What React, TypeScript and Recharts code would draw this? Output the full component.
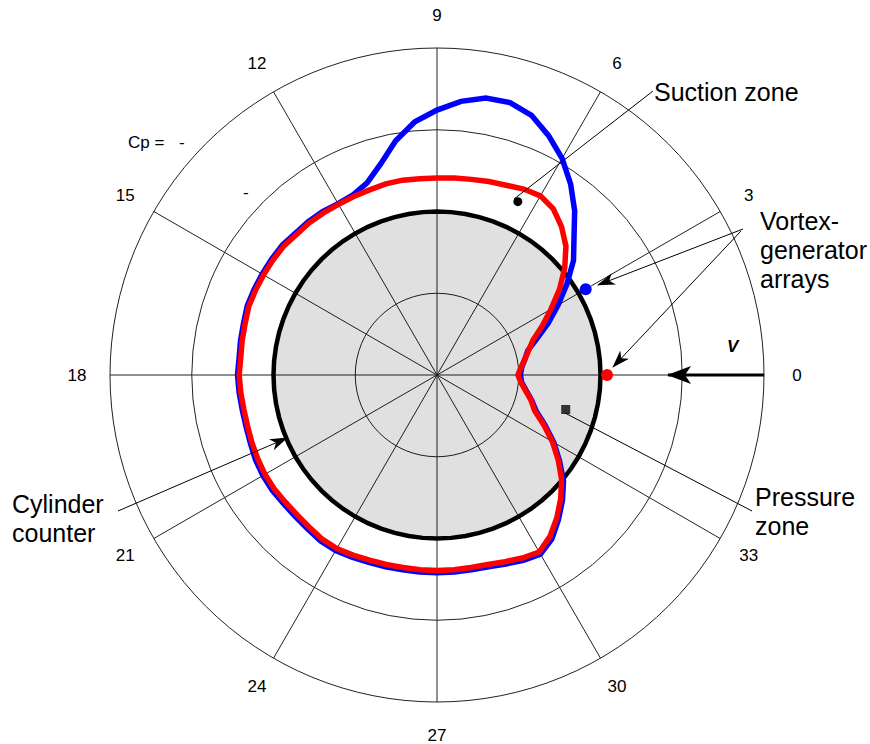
import React from 'react';
import { RadarChart, Radar, PolarGrid, PolarAngleAxis, PolarRadiusAxis } from 'recharts';

const FONT = '"Liberation Sans", Arial, sans-serif';

// angle of each sample, degrees, counter-clockwise from the free stream side
const angles = [
  0, 5, 10, 15, 20, 25, 30, 35, 40, 45, 50, 55,
  60, 65, 70, 75, 80, 85, 90, 95, 100, 105, 110, 115,
  120, 125, 130, 135, 140, 145, 150, 155, 160, 165, 170, 175,
  180, 185, 190, 195, 200, 205, 210, 215, 220, 225, 230, 235,
  240, 245, 250, 255, 260, 265, 270, 275, 280, 285, 290, 295,
  300, 305, 310, 315, 320, 325, 330, 335, 340, 345, 350, 355,
];

// blue: vortex generators at 30 deg (radius in ring units, cylinder wall = 2)
const vg30 = [
  1.02, 1.04, 1.09, 1.15, 1.3, 1.5, 1.71, 1.94, 2.18, 2.37, 2.62, 2.85,
  3.06, 3.23, 3.38, 3.45, 3.44, 3.36, 3.24, 3.11, 2.91, 2.67, 2.5, 2.43,
  2.42, 2.44, 2.45, 2.45, 2.47, 2.47, 2.47, 2.47, 2.47, 2.45, 2.44, 2.43,
  2.44, 2.43, 2.42, 2.42, 2.43, 2.45, 2.46, 2.46, 2.45, 2.45, 2.46, 2.48,
  2.48, 2.46, 2.44, 2.43, 2.42, 2.42, 2.42, 2.42, 2.42, 2.43, 2.46, 2.5,
  2.53, 2.45, 2.31, 2.17, 2.02, 1.83, 1.65, 1.46, 1.29, 1.2, 1.11, 1.04,
];

// red: vortex generators at 0 deg
const vg0 = [
  0.99, 1.03, 1.09, 1.16, 1.25, 1.42, 1.61, 1.83, 2.04, 2.23, 2.37, 2.48,
  2.53, 2.51, 2.47, 2.45, 2.43, 2.42, 2.41, 2.41, 2.42, 2.42, 2.41, 2.41,
  2.41, 2.42, 2.43, 2.43, 2.45, 2.45, 2.45, 2.45, 2.45, 2.43, 2.42, 2.41,
  2.42, 2.41, 2.4, 2.4, 2.41, 2.42, 2.43, 2.43, 2.42, 2.42, 2.43, 2.45,
  2.45, 2.43, 2.41, 2.4, 2.39, 2.39, 2.39, 2.39, 2.39, 2.4, 2.43, 2.47,
  2.5, 2.41, 2.28, 2.14, 1.99, 1.81, 1.63, 1.44, 1.27, 1.19, 1.1, 1.03,
];

const cylinderWall = 2;
const ringTicks = [0, 1, 2, 3, 4];
const spokeAngles = [0, 30, 60, 90, 120, 150, 180, 210, 240, 270, 300, 330];

const markerKeys = ['dotVg30', 'dotVg0', 'dotSuction', 'dotPressure'];
const markerAngles = [30, 0, 65, 345];
const markerValues = [2.1, 2.08, 2.34, 1.63];

const rows = angles.map((angle, i) => {
  const row: Record<string, number | undefined> = {
    angle,
    cylinder: cylinderWall,
    vg30: vg30[i],
    vg0: vg0[i],
  };
  markerKeys.forEach((k, j) => {
    row[k] = markerAngles[j] === angle ? markerValues[j] : undefined;
  });
  return row;
});

// recharts walks categories clockwise, so feed them 0, 355, 350 ... 5
const data = [rows[0], ...rows.slice(1).reverse()];

const AngleTick = (props: any) => {
  const { x, y, payload } = props;
  if (payload.value % 30 !== 0) return <g />;
  return (
    <text x={x} y={y} textAnchor="middle" dominantBaseline="central" fontSize={17} fill="#000" fontFamily={FONT}>
      {payload.value / 10}
    </text>
  );
};

const makeDot = (color: string, square: boolean, size: number) => (props: any) => {
  const { cx, cy, value, index } = props;
  if (value == null || Number.isNaN(cx)) return <g key={index} />;
  if (square) {
    return <rect key={index} x={cx - size} y={cy - size} width={size * 2} height={size * 2} fill={color} />;
  }
  return <circle key={index} cx={cx} cy={cy} r={size} fill={color} />;
};

const Annotations = () => (
  <svg width={870} height={744} style={{ position: 'absolute', left: 0, top: 0, pointerEvents: 'none' }}>
    <defs>
      <marker id="arr" markerUnits="userSpaceOnUse" markerWidth={18} markerHeight={12} refX={17} refY={6} orient="auto">
        <path d="M0,0 L18,6 L0,12 L5,6 Z" fill="#000" />
      </marker>
      <marker id="arrBig" markerUnits="userSpaceOnUse" markerWidth={24} markerHeight={18} refX={23} refY={9} orient="auto">
        <path d="M0,0 L24,9 L0,18 L6,9 Z" fill="#000" />
      </marker>
    </defs>
    <g stroke="#000" strokeWidth={1} fill="none">
      <line x1={514} y1={199} x2={653} y2={91} />
      <line x1={743} y1={229} x2={598} y2={285} markerEnd="url(#arr)" />
      <line x1={741} y1={231} x2={613} y2={367} markerEnd="url(#arr)" />
      <line x1={118} y1={511} x2={287} y2={438} markerEnd="url(#arr)" />
      <line x1={565} y1={413} x2={752} y2={511} />
      <line x1={764} y1={375} x2={668} y2={375} strokeWidth={3} markerEnd="url(#arrBig)" />
    </g>
    <g fontFamily={FONT} fill="#000" fontSize={25}>
      <text x={654} y={101}>Suction zone</text>
      <text x={760} y={230}>Vortex-</text>
      <text x={760} y={259}>generator</text>
      <text x={760} y={288}>arrays</text>
      <text x={755} y={506}>Pressure</text>
      <text x={755} y={535}>zone</text>
      <text x={12} y={513}>Cylinder</text>
      <text x={12} y={542}>counter</text>
    </g>
    <g fontFamily={FONT} fill="#000" fontSize={17}>
      <text x={727} y={352} fontStyle="italic" fontWeight="bold">V</text>
      <text x={128} y={148}>Cp =</text>
      <text x={179} y={148}>-</text>
      <text x={243} y={198}>-</text>
    </g>
  </svg>
);

export default function App() {
  return (
    <div style={{ position: 'absolute', left: 0, top: 0, width: 870, height: 744, background: '#fff' }}>
      <RadarChart
        width={870}
        height={744}
        data={data}
        cx={437}
        cy={375}
        outerRadius={327}
        startAngle={0}
        endAngle={-360}
        margin={{ top: 0, right: 0, bottom: 0, left: 0 }}
      >
        <PolarGrid gridType="circle" polarAngles={spokeAngles} stroke="#222" strokeWidth={1} strokeOpacity={1} />
        <PolarAngleAxis dataKey="angle" tick={<AngleTick />} tickLine={false} axisLine={false} tickSize={33} />
        <PolarRadiusAxis domain={[0, 4]} ticks={ringTicks} tick={false} axisLine={false} />
        <Radar
          dataKey="cylinder"
          stroke="#000"
          strokeWidth={4.5}
          fill="#000"
          fillOpacity={0.12}
          isAnimationActive={false}
        />
        <Radar dataKey="vg30" stroke="#0000ff" strokeWidth={5.5} fill="none" isAnimationActive={false} />
        <Radar dataKey="vg0" stroke="#ff0000" strokeWidth={5.5} fill="none" isAnimationActive={false} />
        <Radar dataKey="dotVg30" stroke="none" fill="none" dot={makeDot('#0000ff', false, 6)} isAnimationActive={false} />
        <Radar dataKey="dotVg0" stroke="none" fill="none" dot={makeDot('#ff0000', false, 6)} isAnimationActive={false} />
        <Radar dataKey="dotSuction" stroke="none" fill="none" dot={makeDot('#000', false, 4.5)} isAnimationActive={false} />
        <Radar dataKey="dotPressure" stroke="none" fill="none" dot={makeDot('#333', true, 4.5)} isAnimationActive={false} />
      </RadarChart>
      <Annotations />
    </div>
  );
}
